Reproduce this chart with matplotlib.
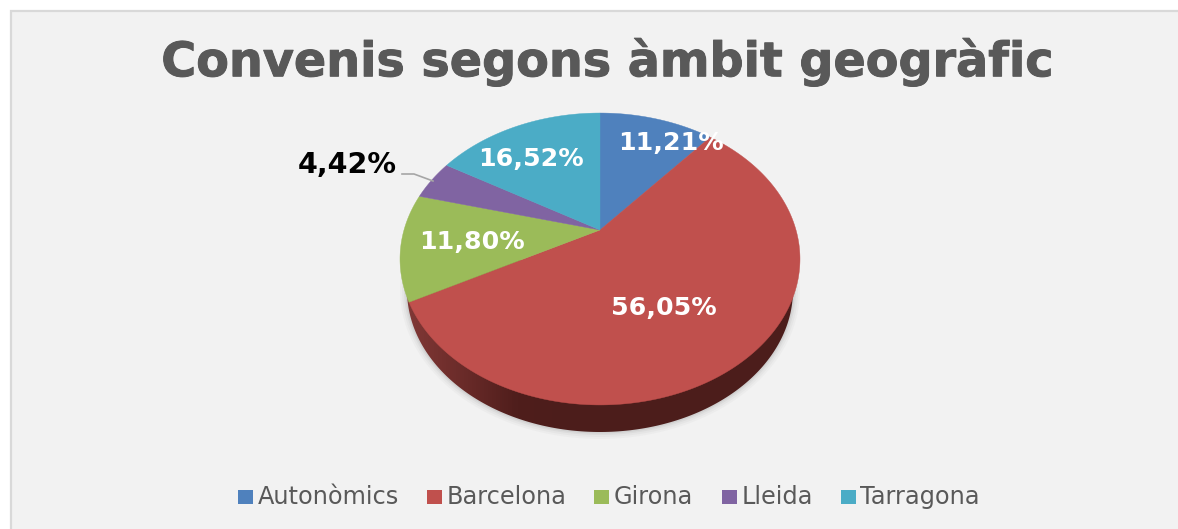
import numpy as np
import matplotlib
matplotlib.use("Agg")
import matplotlib.pyplot as plt
import matplotlib.patheffects as pe
from matplotlib.colors import LinearSegmentedColormap
from matplotlib.patches import Polygon, Rectangle

title = "Convenis segons àmbit geogràfic"
categories = ["Autonòmics", "Barcelona", "Girona", "Lleida", "Tarragona"]
shares = [11.21, 56.05, 11.80, 4.42, 16.52]
colors = ["#4f81bd", "#c0504d", "#9bbb59", "#8064a2", "#4bacc6"]

# layout, in pixels of the picture
label_xy = [(671, 143), (664, 308), (472, 242), (347, 165), (531, 159)]
label_col = ["white", "white", "white", "black", "white"]
label_size = [18.2, 18.2, 18.2, 20.6, 18.2]
swatch_x = [238, 427, 594, 722, 841]
text_x = [258, 447, 614, 742, 860]

apex = (600, 230)
k, a, c = 0.1986, 140.2, 196.0


def rim(t0, t1):
	# tilted pie: angles run clockwise from the top of a unit circle
	t = np.radians(np.linspace(t0, t1, max(int(abs(t1 - t0)) * 2, 2)))
	u, v = np.sin(t), np.cos(t)
	w = 1 + k * v
	return apex[0] + c * u / w, apex[1] - a * v / w


def pct(v):
	return ("%.2f" % v).replace(".", ",") + "%"


fig = plt.figure(figsize=(11.78, 5.29), dpi=100, facecolor="white")
ax = fig.add_axes([0, 0, 1, 1])
ax.set_xlim(0, 1178)
ax.set_ylim(529, 0)
ax.axis("off")

ax.add_patch(Rectangle((11, 11), 1200, 560, fc="#f2f2f2", ec="#d9d9d9", lw=1.6, zorder=0))

# side of the pie
t = np.linspace(0, 2 * np.pi, 400)
sx, sy = 600 + 193 * np.cos(t), 290 + 142 * np.sin(t)
for grow, alpha in zip([7, 5, 3, 1.5], [0.03, 0.04, 0.06, 0.08]):
	ax.fill(600 + (193 + grow) * np.cos(t), 290 + (142 + grow) * np.sin(t),
		color="#505050", alpha=alpha, lw=0, zorder=1)
side_cmap = LinearSegmentedColormap.from_list("side", ["#7f3735", "#6a2b29", "#4f1e1c", "#4c1d1b"])
grad = np.clip((np.linspace(400, 800, 200) - 410) / 160, 0, 1).reshape(1, -1)
im = ax.imshow(grad, extent=(400, 800, 440, 260), cmap=side_cmap, aspect="auto", zorder=2)
side = Polygon(np.c_[sx, sy], closed=True, transform=ax.transData, fc="none", ec="none")
ax.add_patch(side)
im.set_clip_path(side)
ax.set_xlim(0, 1178)
ax.set_ylim(529, 0)

# top face
start = 0.0
for share, col in zip(shares, colors):
	end = start + share * 3.6
	x, y = rim(start, end)
	ax.fill(np.r_[apex[0], x], np.r_[apex[1], y], color=col, lw=0.3, zorder=3)
	start = end

# leader line for the small slice
ax.plot([402, 414, 433], [174, 174, 181], color="#a6a6a6", lw=1.2, zorder=4)

for share, (lx, ly), col, fs in zip(shares, label_xy, label_col, label_size):
	ax.text(lx, ly, pct(share), color=col, fontsize=fs, fontweight="bold",
		ha="center", va="center", zorder=5)

ttl = ax.text(607, 62, title, color="#595959", fontsize=34.3, fontweight="bold",
	ha="center", va="center", zorder=5)
ttl.set_path_effects([pe.withStroke(linewidth=0.7, foreground="#595959")])

for name, col, sw, tx in zip(categories, colors, swatch_x, text_x):
	ax.add_patch(Rectangle((sw, 490), 15, 14, fc=col, ec="none", zorder=5))
	ax.text(tx, 497, name, color="#595959", fontsize=17.3, ha="left", va="center", zorder=5)

fig.savefig("out.png", dpi=100)
